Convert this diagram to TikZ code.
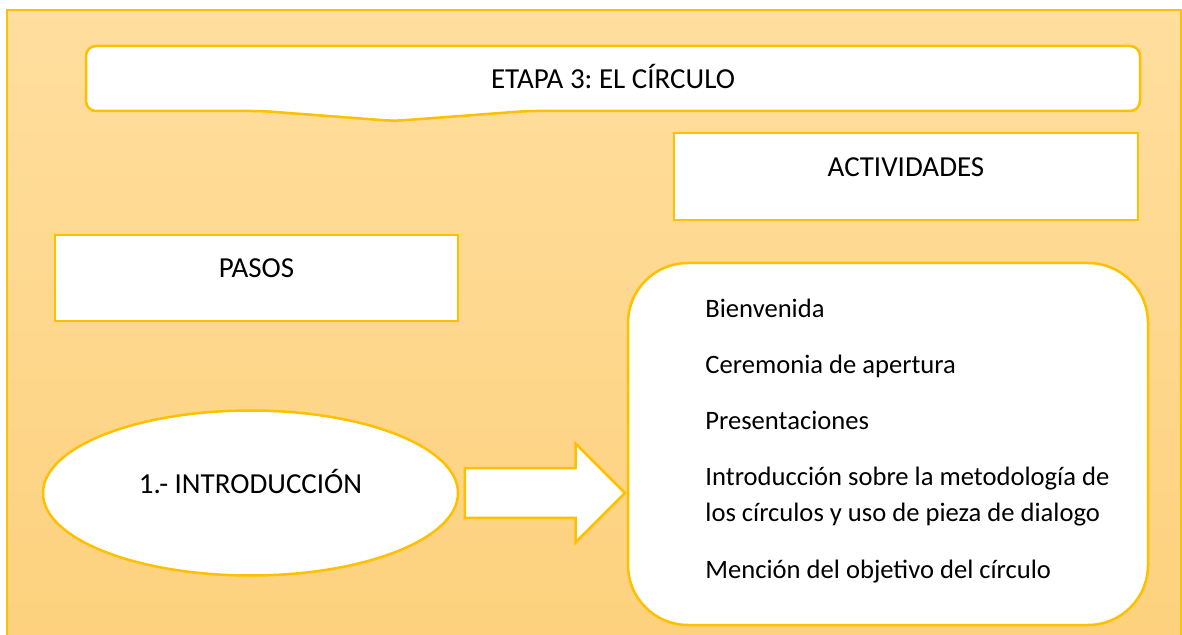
\documentclass[tikz,border=0pt]{standalone}
\usepackage{fontspec}
\setmainfont{Carlito}
\usetikzlibrary{shapes.geometric,shapes.arrows}
\frenchspacing

\definecolor{borde}{HTML}{FFC000}
\definecolor{fondoA}{HTML}{FFDE9E}
\definecolor{fondoB}{HTML}{FDD17D}

\tikzset{
	linea/.style={draw=borde, line width=1.25pt},
	cuadro/.style={linea, fill=white, rectangle, inner sep=0pt},
	titulo/.style={font=\fontsize{14.5}{17}\selectfont, anchor=base},
	item/.style={font=\fontsize{13.3}{16}\selectfont, anchor=base west, inner sep=0pt}
}

\begin{document}
\begin{tikzpicture}[x=0.5pt,y=-0.5pt]
			\useasboundingbox (0,0) rectangle (1182,635);
			\fill[white] (0,0) rectangle (1182,635);
			\draw[linea, top color=fondoA, bottom color=fondoB] (7,10) rectangle (1181,650);

			% encabezado
			\draw[linea, fill=white, rounded corners=5pt] (613,46) -- (1140,46) -- (1140,111) -- (527,111) -- (394,121) -- (262,111) -- (86,111) -- (86,46) -- cycle;
			\node[titulo] (etapa) at (613,89) {ETAPA 3: EL CÍRCULO};

			\node[cuadro, minimum width=232pt, minimum height=43.5pt] (actbox) at (906,176.5) {};
			\node[titulo] (act) at (906,177) {ACTIVIDADES};

			\node[cuadro, minimum width=201.5pt, minimum height=43pt] (pasosbox) at (256.5,278) {};
			\node[titulo] (pasos) at (256.5,278) {PASOS};

			\node[linea, fill=white, ellipse, inner sep=0pt, minimum width=207.5pt, minimum height=82.5pt] (intro) at (250.5,493) {};
			\node[titulo] (introT) at (250.5,494) {1.- INTRODUCCIÓN};

			\node[cuadro, rounded corners=30pt, minimum width=260pt, minimum height=181pt] (lista) at (888,444) {};
			\node[linea, fill=white, single arrow, inner xsep=0pt, inner ysep=11.75pt, minimum height=80pt, minimum width=48pt, single arrow head extend=12.25pt, anchor=tip] (flecha) at (lista.west |- intro.east) {};

			\node[item] (b1) at (705,318) {Bienvenida};
			\node[item] (b2) at (705,374) {Ceremonia de apertura};
			\node[item] (b3) at (705,430) {Presentaciones};
			\node[item] (b4) at (705,486) {Introducción sobre la metodología de};
			\node[item] (b5) at (705,521) {los círculos y uso de pieza de dialogo};
			\node[item] (b6) at (705,578) {Mención del objetivo del círculo};
\end{tikzpicture}
\end{document}
